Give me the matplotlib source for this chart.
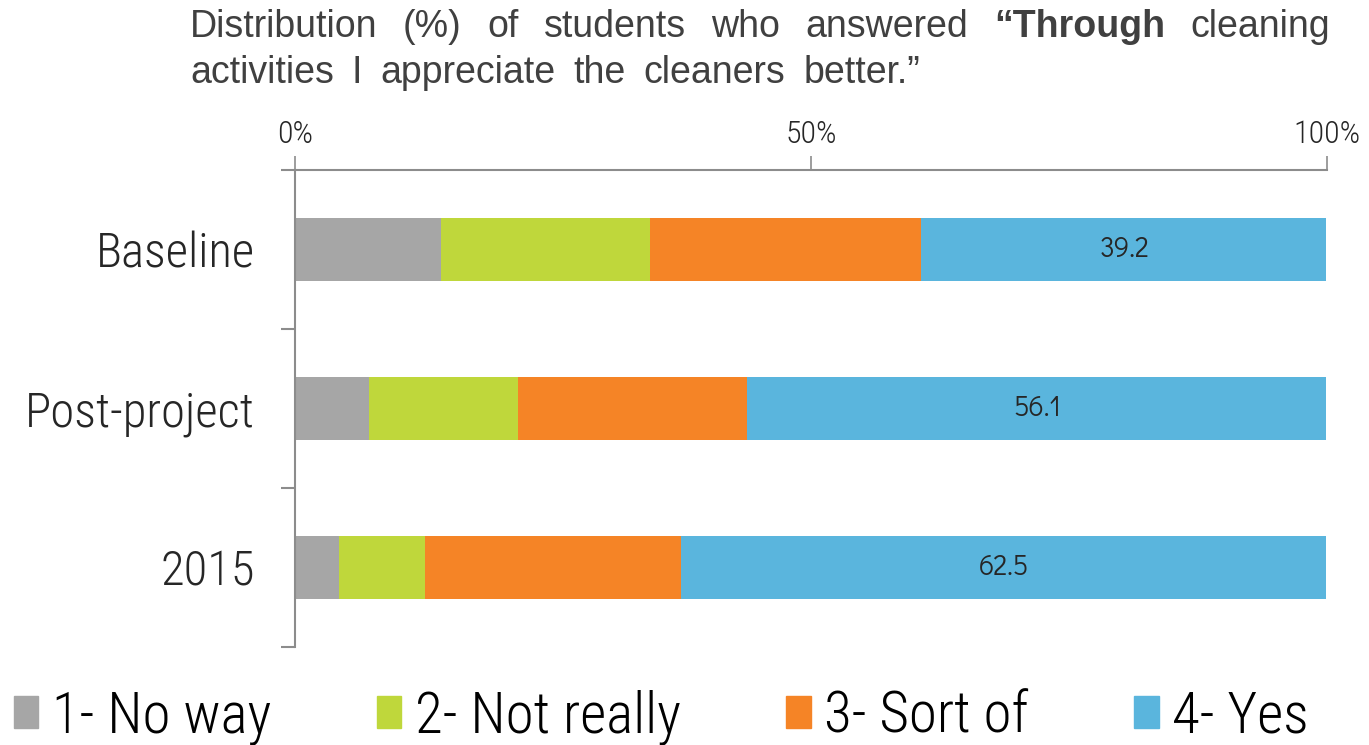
import numpy as np
import matplotlib.pyplot as plt
from matplotlib.patches import Patch

groups = ["Baseline", "Post-project", "2015"]
answers = ["1- No way", "2- Not really", "3- Sort of", "4- Yes"]
no_way = [14.1, 7.2, 4.3]
not_really = [20.3, 14.4, 8.3]
sort_of = [26.3, 22.2, 24.8]
yes = [39.2, 56.1, 62.5]
colors = ["#a6a6a6", "#bfd73b", "#f58426", "#5ab5dd"]

narrow = ["Roboto Condensed", "DejaVu Sans"]
ink = "#262626"
axis_gray = "#8c8c8c"

fig = plt.figure(figsize=(13.69, 7.45), dpi=100)
ax = fig.add_axes([0.2155, 0.1315, 0.7538, 0.6403])

y = np.arange(len(groups))
left = np.zeros(len(groups))
for vals, c in zip([no_way, not_really, sort_of, yes], colors):
    ax.barh(y, vals, left=left, height=0.4, color=c)
    left += np.array(vals)

# value labels only on the "Yes" segment
for i, v in enumerate(yes):
    ax.text(100 - v / 2, i, f"{v}", ha="center", va="center", fontsize=20,
            color=ink, family=["Didact Gothic", "DejaVu Sans"])

ax.set_xlim(0, 100)
ax.set_ylim(2.5, -0.5)
ax.xaxis.tick_top()
ax.set_xticks([0, 50, 100])
ax.set_xticklabels(["0%", "50%", "100%"], fontsize=23, family=narrow, weight=300, color=ink)
ax.tick_params(axis="x", direction="out", length=10, width=1.2, color=axis_gray, pad=5)

ax.set_yticks(y)
ax.set_yticklabels(groups, fontsize=35, family=narrow, weight=300, color=ink)
ax.tick_params(axis="y", length=0, pad=29)
ax.set_yticks([-0.5, 0.5, 1.5, 2.5], minor=True)
ax.tick_params(axis="y", which="minor", length=10, width=1.5, color=axis_gray)

for s in ["right", "bottom"]:
    ax.spines[s].set_visible(False)
for s in ["top", "left"]:
    ax.spines[s].set_color(axis_gray)
    ax.spines[s].set_linewidth(1.5)

# legend along the bottom
handles = [Patch(color=c) for c in colors]
fig.legend(handles, answers, loc="lower left", bbox_to_anchor=(0.01, 0.0), ncol=4,
           frameon=False, prop={"family": narrow, "size": 41, "weight": 300},
           handlelength=0.43, handleheight=0.48, handletextpad=0.24, columnspacing=1.85,
           borderpad=0, borderaxespad=0)

# title: first line justified, second line with the same loose spacing
renderer = fig.canvas.get_renderer()
tstyle = dict(fontsize=27, color="#404040", family="Liberation Sans", va="baseline")


def place_words(words, yy, x0, x1):
    items = [fig.text(0, yy, w, weight=wt, **tstyle) for w, wt in words]
    widths = [t.get_window_extent(renderer).width / fig.bbox.width for t in items]
    gap = (x1 - x0 - sum(widths)) / (len(items) - 1)
    xp = x0
    for t, w in zip(items, widths):
        t.set_x(xp)
        xp += w + gap


line1 = [("Distribution", "normal"), ("(%)", "normal"), ("of", "normal"),
         ("students", "normal"), ("who", "normal"), ("answered", "normal"),
         ("\u201cThrough", "bold"), ("cleaning", "normal")]
line2 = [(w, "normal") for w in "activities I appreciate the cleaners better.\u201d".split()]
place_words(line1, 0.950, 190 / 1369, 1330 / 1369)
place_words(line2, 0.889, 190 / 1369, 920 / 1369)

fig.savefig("out.png", dpi=100)
